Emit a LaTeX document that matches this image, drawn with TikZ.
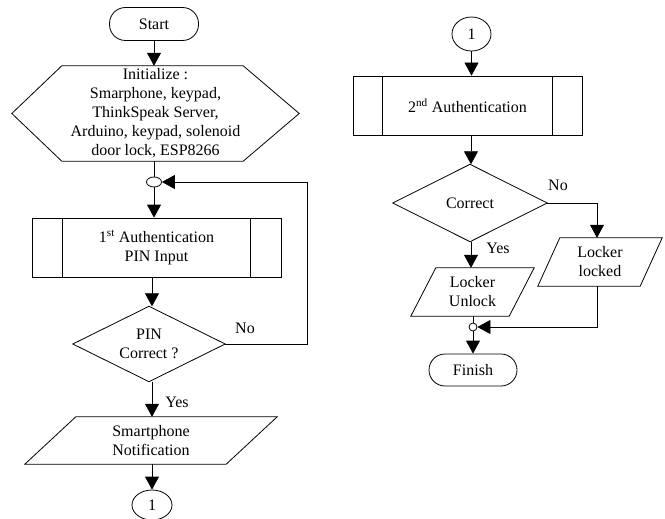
\documentclass[tikz,border=0pt]{standalone}
\usepackage{fontspec}
\setmainfont{Liberation Serif}
\usetikzlibrary{arrows.meta,shapes.geometric}
\begin{document}
\begin{tikzpicture}[x=1pt,y=-1pt,
  every node/.style={font=\fontsize{16}{19}\selectfont, align=center, inner sep=0pt},
  term/.style={draw, line width=0.8pt, rounded corners=16pt, minimum width=89pt, minimum height=33pt},
  ghost/.style={draw=none},
  ln/.style={line width=0.8pt},
  arr/.style={line width=0.8pt, -{Triangle[length=13pt,width=14pt]}},
  lbl/.style={font=\fontsize{16}{19}\selectfont}
]
\useasboundingbox (0,0) rectangle (665,519);

% ---------- left column ----------
\node[term] (start) at (154,24) {Start};
\node[ghost, minimum width=287pt, minimum height=95pt] (init) at (155.5,113.5)
  {Initialize :\\Smarphone, keypad,\\ThinkSpeak Server,\\Arduino, keypad, solenoid\\door lock, ESP8266};
\draw[ln] (init.west) -- ([xshift=50pt]init.north west) -- ([xshift=-56pt]init.north east)
  -- (init.east) -- ([xshift=-56pt]init.south east) -- ([xshift=50pt]init.south west) -- cycle;

\node[draw, ln, ellipse, minimum width=15pt, minimum height=10pt] (j1) at (154,182) {};

\node[draw, ln, minimum width=249pt, minimum height=59pt] (p1) at (156.5,247.5)
  {1\textsuperscript{st} Authentication\\PIN Input};
\draw[ln] ([xshift=31pt]p1.north west) -- ([xshift=31pt]p1.south west);
\draw[ln] ([xshift=-31pt]p1.north east) -- ([xshift=-31pt]p1.south east);

\node[ghost, minimum width=152pt, minimum height=75pt] (d1) at (149,344) {PIN\\Correct ?};
\draw[ln] (d1.north) -- (d1.east) -- (d1.south) -- (d1.west) -- cycle;

\node[ghost, minimum width=252pt, minimum height=47pt] (o1) at (151,440.5) {Smartphone\\Notification};
\draw[ln] (o1.south west) -- ([xshift=51pt]o1.north west) -- (o1.north east)
  -- ([xshift=-51pt]o1.south east) -- cycle;

\node[draw, ln, ellipse, minimum width=40pt, minimum height=30pt] (c1) at (152,505) {1};

\coordinate (fb) at (307,344);
\draw[arr] (start.south) -- (start.south |- init.north);
\draw[ln] (init.south -| j1) -- (j1.north);
\draw[arr] (j1.south) -- (j1.south |- p1.north);
\draw[arr] (p1.south -| 152,0) -- (d1.north -| 152,0);
\draw[arr] (d1.south -| 152,0) -- (o1.north -| 152,0);
\draw[arr] (o1.south -| 152,0) -- (c1.north);
\draw[arr] (d1.east) -- (fb) |- (j1.east);
\node[lbl] (no1) at (245,328) {No};
\node[lbl] (yes1) at (177,402) {Yes};

% ---------- right column ----------
\node[draw, ln, ellipse, minimum width=39pt, minimum height=34pt] (c2) at (471.5,34) {1};

\node[draw, ln, minimum width=229pt, minimum height=59pt] (p2) at (467.5,105.5)
  {2\textsuperscript{nd} Authentication};
\draw[ln] ([xshift=30pt]p2.north west) -- ([xshift=30pt]p2.south west);
\draw[ln] ([xshift=-30pt]p2.north east) -- ([xshift=-30pt]p2.south east);

\node[ghost, minimum width=154pt, minimum height=77pt] (d2) at (470,203) {Correct};
\draw[ln] (d2.north) -- (d2.east) -- (d2.south) -- (d2.west) -- cycle;

\node[ghost, minimum width=123pt, minimum height=48pt] (ul) at (472.5,292) {Locker\\Unlock};
\draw[ln] (ul.south west) -- ([xshift=25pt]ul.north west) -- (ul.north east)
  -- ([xshift=-25pt]ul.south east) -- cycle;

\node[ghost, minimum width=124pt, minimum height=48pt] (lk) at (600,262) {Locker\\locked};
\draw[ln] (lk.south west) -- ([xshift=22pt]lk.north west) -- (lk.north east)
  -- ([xshift=-22pt]lk.south east) -- cycle;

\node[draw, ln, circle, minimum size=8pt] (j2) at (473,327) {};
\node[term, minimum width=88pt, minimum height=32pt] (fin) at (473,370) {Finish};

\coordinate (nb) at (597,203);
\coordinate (lb) at (597,286);
\draw[arr] (c2.south) -- (c2.south |- p2.north);
\draw[arr] (p2.south -| 471,0) -- (d2.north -| 471,0);
\draw[arr] (d2.south -| 471,0) -- (ul.north -| 471,0);
\draw[arr] (d2.east) -- (nb) -- (nb |- lk.north);
\draw[ln] (ul.south -| j2) -- (j2.north);
\draw[arr] (lb) |- (j2.east);
\draw[arr] (j2.south) -- (fin.north);
\node[lbl] (no2) at (558,185) {No};
\node[lbl] (yes2) at (498,248) {Yes};
\end{tikzpicture}
\end{document}
